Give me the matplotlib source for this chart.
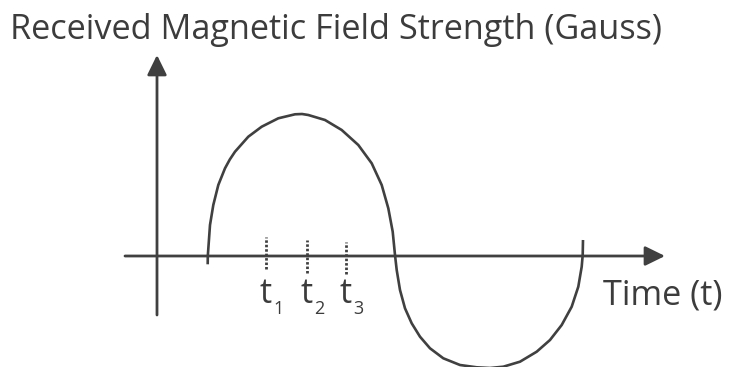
import matplotlib
matplotlib.use("Agg")
import matplotlib.pyplot as plt

# Received field strength B (Gauss) against time t, traced as a smooth wave
wave_t = [0.507, 0.508, 0.53, 0.563, 0.613, 0.68, 0.728, 0.78, 0.913, 1.047, 1.213,
          1.38, 1.45, 1.513, 1.68, 1.847, 2.013, 2.147, 2.247, 2.313, 2.357,
          2.38, 2.397, 2.43, 2.48, 2.547, 2.63, 2.73, 2.863, 3.03, 3.197,
          3.33, 3.463, 3.63, 3.797, 3.93, 4.047, 4.147, 4.213, 4.247, 4.257, 4.26]
wave_b = [-0.083, 0.0, 0.31, 0.51, 0.71, 0.877, 0.965, 1.043, 1.193, 1.293, 1.377,
          1.417, 1.42, 1.41, 1.36, 1.26, 1.11, 0.927, 0.71, 0.477, 0.243,
          0.01, -0.14, -0.34, -0.523, -0.673, -0.807, -0.923, -1.023, -1.09, -1.113,
          -1.12, -1.107, -1.057, -0.957, -0.84, -0.69, -0.507, -0.307, -0.107, 0.01, 0.16]

# Sampling instants marked on the time axis
sample_times = [1.09, 1.50, 1.89]
sample_names = ["t", "t", "t"]
sample_subs = ["1", "2", "3"]
sample_top = [0.19, 0.16, 0.14]
sample_bottom = [-0.13, -0.17, -0.18]

# Axis extents
t_axis = (-0.32, 5.08)
b_axis = (-0.59, 2.01)

title = "Received Magnetic Field Strength (Gauss)"
x_label = "Time (t)"

INK = "#404040"
TEXT = "#3c3c3c"
FONT = ["Open Sans", "DejaVu Sans"]
SIZE = 24.7

fig = plt.figure(figsize=(7.30, 3.67), dpi=100)
ax = fig.add_axes([0, 0, 1, 1])
ax.set_xlim(-1.57, 5.73)
ax.set_ylim(-1.11, 2.56)
ax.axis("off")

arrow = dict(arrowstyle="-|>,head_length=0.55,head_width=0.27", color=INK,
             lw=2.0, mutation_scale=22, shrinkA=0, shrinkB=0)
ax.annotate("", xy=(t_axis[1], 0), xytext=(t_axis[0], 0), arrowprops=arrow)
ax.annotate("", xy=(0, b_axis[1]), xytext=(0, b_axis[0]), arrowprops=arrow)

ax.plot(wave_t, wave_b, color=INK, lw=1.9, solid_capstyle="butt",
        solid_joinstyle="round", clip_on=True)

for t, top, bot, name, sub in zip(sample_times, sample_top, sample_bottom,
                                  sample_names, sample_subs):
    ax.plot([t, t], [bot, top], color=INK, lw=2.0, linestyle=(0, (0.9, 0.7)))
    ax.annotate(name, xy=(t, 0), xytext=(-0.5, -34), textcoords="offset points",
                ha="center", va="baseline", fontsize=SIZE, color=TEXT, family=FONT)
    ax.annotate(sub, xy=(t, 0), xytext=(5.0, -42), textcoords="offset points",
                ha="left", va="baseline", fontsize=13, color=TEXT, family=FONT)

ax.text(4.46, -0.49, x_label, ha="left", va="baseline", fontsize=SIZE,
        color=TEXT, family=FONT)
fig.text(10 / 730, 1 - 39 / 367, title, ha="left", va="baseline", fontsize=SIZE,
         color=TEXT, family=FONT)

fig.savefig("out.png", dpi=100)
